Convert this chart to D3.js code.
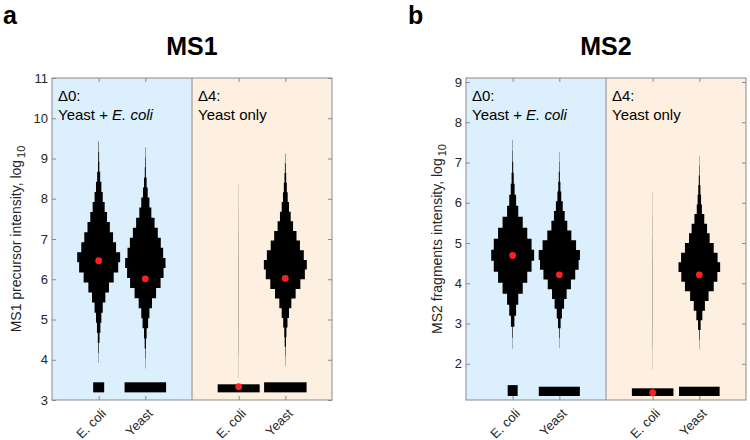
<!DOCTYPE html>
<html>
<head>
<meta charset="utf-8">
<script src="https://cdn.jsdelivr.net/npm/d3@7"></script>
<style>
  body { margin: 0; background: #fff; }
  svg { font-family: "Liberation Sans", Arial, Helvetica, sans-serif; }
</style>
</head>
<body>
<div id="chart"></div>
<script>
// categories along x, same for both panels
var categories = ["E. coli", "Yeast", "E. coli", "Yeast"];
var catPos = [1, 2, 4, 5];

// MS1 histograms: first bin start, bin step, relative widths (bottom -> top)
var ms1Lo = [3.92, 3.78, 3.55, 3.84];
var ms1Step = [0.25, 0.25, 0.6, 0.24];
var ms1EcoliD0 = [0.006, 0.015, 0.04, 0.08, 0.125, 0.19, 0.31, 0.48, 0.70, 0.91, 1.0,
                  0.81, 0.67, 0.52, 0.39, 0.28, 0.19, 0.125, 0.07, 0.03, 0.02, 0.01];
var ms1YeastD0 = [0.006, 0.012, 0.03, 0.06, 0.13, 0.19, 0.31, 0.50, 0.71, 0.85, 0.94,
                  0.83, 0.72, 0.58, 0.43, 0.28, 0.19, 0.11, 0.06, 0.025, 0.015, 0.008];
var ms1EcoliD4 = [0.003, 0.005, 0.006, 0.006, 0.006, 0.005, 0.004, 0.003];
var ms1YeastD4 = [0.006, 0.012, 0.03, 0.05, 0.10, 0.17, 0.28, 0.48, 0.70, 0.91, 1.0,
                  0.86, 0.68, 0.52, 0.36, 0.25, 0.17, 0.11, 0.07, 0.04, 0.02, 0.008];
var ms1Median = [6.46, 6.01, 3.33, 6.02];
// bars of the lowest (missing) values: bottom, top, width
var ms1BarLo = [3.19, 3.19, 3.19, 3.19];
var ms1BarHi = [3.44, 3.44, 3.39, 3.44];
var ms1BarW = [0.236, 0.89, 0.90, 0.91];
var ms1Ticks = [3, 4, 5, 6, 7, 8, 9, 10, 11];

// MS2
var ms2Lo = [2.376, 2.394, 1.85, 2.36];
var ms2Step = [0.273, 0.243, 0.55, 0.24];
var ms2EcoliD0 = [0.006, 0.015, 0.08, 0.16, 0.26, 0.47, 0.68, 0.88, 1.0,
                  0.88, 0.68, 0.47, 0.26, 0.16, 0.09, 0.05, 0.025, 0.012, 0.007];
var ms2YeastD0 = [0.006, 0.015, 0.06, 0.12, 0.22, 0.34, 0.54, 0.74, 0.90, 0.96,
                  0.78, 0.56, 0.37, 0.25, 0.16, 0.09, 0.05, 0.025, 0.012, 0.006];
var ms2EcoliD4 = [0.003, 0.005, 0.006, 0.006, 0.006, 0.005, 0.004, 0.003];
var ms2YeastD4 = [0.006, 0.015, 0.06, 0.14, 0.26, 0.43, 0.67, 0.84, 0.97, 0.85,
                  0.67, 0.48, 0.36, 0.23, 0.12, 0.08, 0.05, 0.025, 0.012, 0.006];
var ms2Median = [4.69, 4.21, 1.28, 4.21];
var ms2BarLo = [1.2, 1.2, 1.2, 1.2];
var ms2BarHi = [1.47, 1.43, 1.39, 1.43];
var ms2BarW = [0.214, 0.88, 0.89, 0.87];
var ms2Ticks = [2, 3, 4, 5, 6, 7, 8, 9];

var svg = d3.select("#chart").append("svg")
    .attr("width", 750)
    .attr("height", 440);

var panels = [
  { letter: "a", letterX: 3, title: "MS1", left: 52, ylim: [3, 11], ticks: ms1Ticks,
    ylabel: "MS1 precursor intensity, log", labelOff: 31,
    lo: ms1Lo, step: ms1Step, hists: [ms1EcoliD0, ms1YeastD0, ms1EcoliD4, ms1YeastD4],
    median: ms1Median, barLo: ms1BarLo, barHi: ms1BarHi, barW: ms1BarW },
  { letter: "b", letterX: 408, title: "MS2", left: 466, ylim: [1.1, 9.1], ticks: ms2Ticks,
    ylabel: "MS2 fragments intensity, log", labelOff: 24,
    lo: ms2Lo, step: ms2Step, hists: [ms2EcoliD0, ms2YeastD0, ms2EcoliD4, ms2YeastD4],
    median: ms2Median, barLo: ms2BarLo, barHi: ms2BarHi, barW: ms2BarW }
];

panels.forEach(drawPanel);

function drawPanel(p) {
  var x = d3.scaleLinear().domain([0, 6]).range([p.left, p.left + 280]);
  var y = d3.scaleLinear().domain(p.ylim).range([400, 78]);
  // half width of a histogram, in x units
  var w = d3.scaleLinear().domain([0, 1]).range([0, 0.46]);
  var g = svg.append("g");
  var top = y(p.ylim[1]), bottom = y(p.ylim[0]);

  // background of the two groups
  g.append("rect").attr("x", x(0)).attr("y", top)
    .attr("width", x(3) - x(0)).attr("height", bottom - top)
    .attr("fill", "#dceffc");
  g.append("rect").attr("x", x(3)).attr("y", top)
    .attr("width", x(6) - x(3)).attr("height", bottom - top)
    .attr("fill", "#fdf0e0");
  g.append("line").attr("x1", x(3)).attr("x2", x(3))
    .attr("y1", top).attr("y2", bottom)
    .attr("stroke", "#8a8a8a").attr("stroke-width", 1);

  var line = d3.line()
    .x(function(d) { return x(d[0]); })
    .y(function(d) { return y(d[1]); });

  // stepped histograms
  p.hists.forEach(function(h, i) {
    var c = catPos[i];
    var right = [];
    h.forEach(function(v, k) {
      var b0 = p.lo[i] + k * p.step[i];
      right.push([c + w(v), b0], [c + w(v), b0 + p.step[i]]);
    });
    var left = right.map(function(d) { return [2 * c - d[0], d[1]]; }).reverse();
    g.append("path")
      .attr("d", line(right.concat(left)) + "Z")
      .attr("fill", "#000");
  });

  // bars at the bottom
  catPos.forEach(function(c, i) {
    g.append("rect")
      .attr("x", x(c - p.barW[i] / 2))
      .attr("y", y(p.barHi[i]))
      .attr("width", x(c + p.barW[i] / 2) - x(c - p.barW[i] / 2))
      .attr("height", y(p.barLo[i]) - y(p.barHi[i]))
      .attr("fill", "#000");
  });

  // medians
  g.selectAll(".med").data(p.median).enter().append("circle")
    .attr("class", "med")
    .attr("cx", function(d, i) { return x(catPos[i]); })
    .attr("cy", function(d) { return y(d); })
    .attr("r", 3.4)
    .attr("fill", "#ff1f1f");

  // group labels
  var t1 = g.append("text").attr("x", x(0) + 6).attr("y", 101).attr("font-size", 15);
  t1.append("tspan").text("\u03940:");
  var t2 = g.append("text").attr("x", x(0) + 6).attr("y", 120).attr("font-size", 15);
  t2.append("tspan").text("Yeast + ");
  t2.append("tspan").attr("font-style", "italic").text("E. coli");
  g.append("text").attr("x", x(3) + 6).attr("y", 101).attr("font-size", 15).text("\u03944:");
  g.append("text").attr("x", x(3) + 6).attr("y", 120).attr("font-size", 15).text("Yeast only");

  // axes
  var yl = g.append("g").attr("transform", "translate(" + x(0) + ",0)")
    .call(d3.axisLeft(y).tickValues(p.ticks).tickSizeInner(-4).tickSizeOuter(0).tickPadding(4));
  var yr = g.append("g").attr("transform", "translate(" + x(6) + ",0)")
    .call(d3.axisRight(y).tickValues(p.ticks).tickSizeInner(-4).tickSizeOuter(0).tickFormat(""));
  var xt = g.append("g").attr("transform", "translate(0," + top + ")")
    .call(d3.axisTop(x).tickValues(catPos).tickSizeInner(-4).tickSizeOuter(0).tickFormat(""));
  var xb = g.append("g").attr("transform", "translate(0," + bottom + ")")
    .call(d3.axisBottom(x).tickValues(catPos).tickSizeInner(-4).tickSizeOuter(0).tickFormat(""));
  [yl, yr, xt, xb].forEach(function(a) {
    a.select(".domain").remove();
    a.selectAll("line").attr("stroke", "#8a8a8a");
  });
  yl.selectAll("text").attr("font-size", 13).attr("fill", "#262626")
    .attr("font-family", "Liberation Sans, Arial, sans-serif");

  g.append("rect").attr("x", x(0)).attr("y", top)
    .attr("width", x(6) - x(0)).attr("height", bottom - top)
    .attr("fill", "none").attr("stroke", "#8a8a8a").attr("stroke-width", 1);

  // rotated x labels
  catPos.forEach(function(c, i) {
    g.append("text")
      .attr("transform", "translate(" + (x(c) + 5) + ",411) rotate(-45)")
      .attr("text-anchor", "end")
      .attr("dy", "0.35em")
      .attr("font-size", 13)
      .attr("fill", "#262626")
      .text(categories[i]);
  });

  // y label
  var lab = g.append("text")
    .attr("transform", "translate(" + (x(0) - p.labelOff) + "," + ((top + bottom) / 2) + ") rotate(-90)")
    .attr("text-anchor", "middle")
    .attr("font-size", 14)
    .attr("fill", "#262626");
  lab.append("tspan").text(p.ylabel);
  lab.append("tspan").attr("font-size", 11).attr("dy", 4).attr("dx", 2).text("10");

  // title and panel letter
  svg.append("text").attr("x", x(3)).attr("y", 55)
    .attr("text-anchor", "middle").attr("font-size", 25).attr("font-weight", "bold")
    .text(p.title);
  svg.append("text").attr("x", p.letterX).attr("y", 24)
    .attr("font-size", 25).attr("font-weight", "bold")
    .text(p.letter);
}
</script>
</body>
</html>
